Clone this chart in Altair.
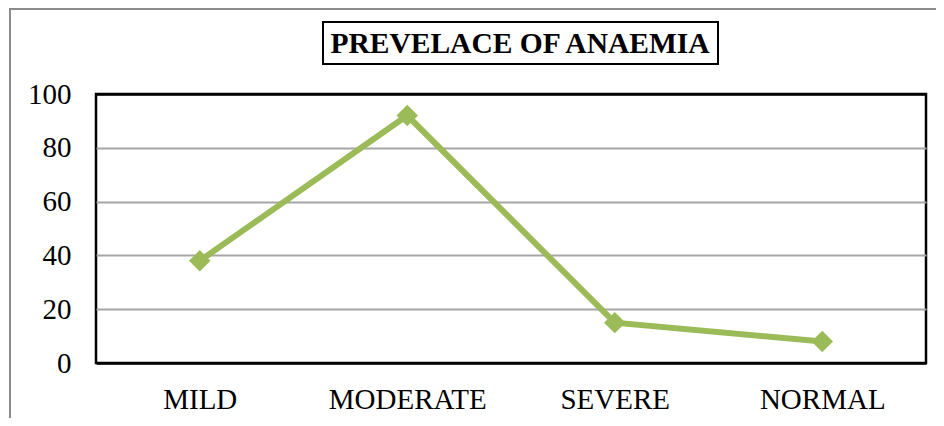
import altair as alt
import pandas as pd

categories = ["MILD", "MODERATE", "SEVERE", "NORMAL"]
values = [38, 92, 15, 8]
y_ticks = [0, 20, 40, 60, 80, 100]
title_text = "PREVELACE OF ANAEMIA"

df = pd.DataFrame({"category": categories, "value": values})
one = pd.DataFrame({"t": [title_text]})

FONT = "Liberation Serif"
GREEN = "#9BBB59"

x_enc = alt.X("category:N", sort=categories, title=None,
              scale=alt.Scale(type="point", padding=0.5),
              axis=alt.Axis(labelAngle=0, labelFontSize=29, labelFont=FONT,
                            labelColor="black", ticks=False, domain=False,
                            labelPadding=22, grid=False, labelBaseline="top"))
y_enc = alt.Y("value:Q", title=None,
              scale=alt.Scale(domain=[0, 100], nice=False),
              axis=alt.Axis(values=y_ticks, labelFontSize=29, labelFont=FONT,
                            labelColor="black", ticks=False, domain=False,
                            labelPadding=25, grid=True,
                            gridColor={"condition": {"test": "datum.value === 0 || datum.value === 100",
                                                     "value": "black"},
                                       "value": "#A6A6A6"},
                            gridWidth={"condition": {"test": "datum.value === 0 || datum.value === 100",
                                                     "value": 2.5},
                                       "value": 2}))

line = alt.Chart(df).mark_line(color=GREEN, strokeWidth=6).encode(x=x_enc, y=y_enc)
pts = alt.Chart(df).mark_point(shape="diamond", filled=True, size=460,
                               color=GREEN, opacity=1).encode(x=x_enc, y=y_enc)

frame_left = alt.Chart(one).mark_rule(color="#8C8C8C", strokeWidth=2, clip=False).encode(
    x=alt.value(-86), y=alt.value(-85), y2=alt.value(340))
frame_top = alt.Chart(one).mark_rule(color="#8C8C8C", strokeWidth=2, clip=False).encode(
    x=alt.value(-87), x2=alt.value(900), y=alt.value(-85))

box = alt.Chart(one).mark_rect(fill="white", stroke="black", strokeWidth=2, clip=False).encode(
    x=alt.value(227), x2=alt.value(622), y=alt.value(-72), y2=alt.value(-30))
title = alt.Chart(one).mark_text(font=FONT, fontSize=29.5, fontWeight="bold",
                                 color="black", align="center", baseline="middle",
                                 clip=False).encode(
    x=alt.value(424), y=alt.value(-50), text="t:N")

chart = alt.layer(frame_left, frame_top, box, title, line, pts).properties(
    width=830, height=269,
    background="white",
    autosize=alt.AutoSizeParams(type="none"),
    padding={"left": 88, "top": 86, "right": 10, "bottom": 55},
).configure_view(stroke="black", strokeWidth=2.5)

chart.save("out.html", embed_options={"renderer": "svg", "actions": False})
